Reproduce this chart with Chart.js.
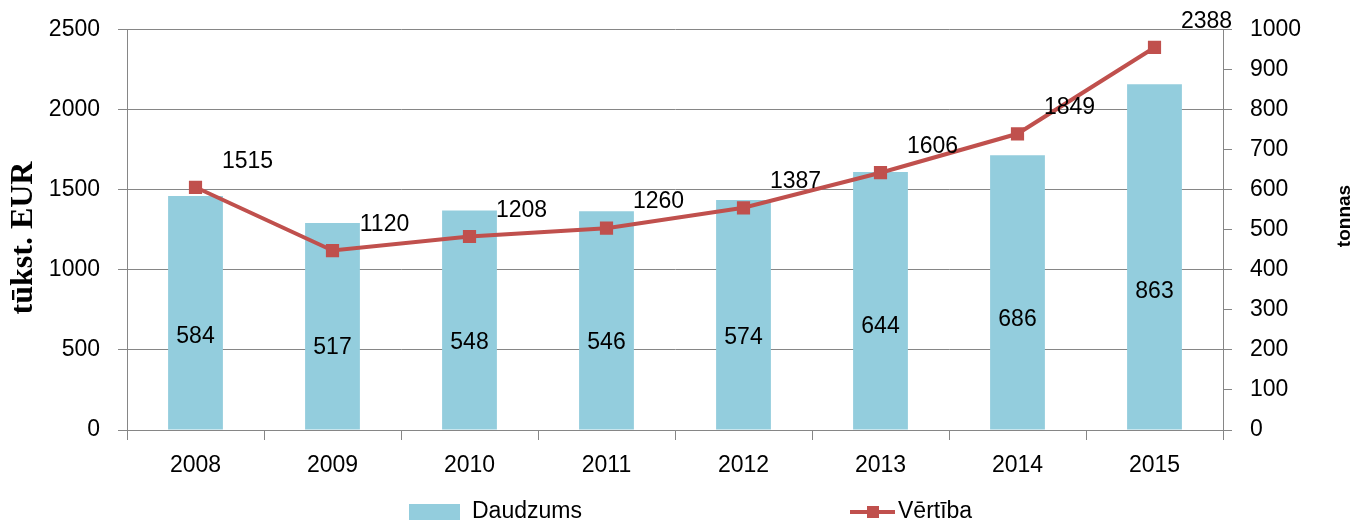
<!DOCTYPE html>
<html>
<head>
<meta charset="utf-8">
<script src="https://cdn.jsdelivr.net/npm/chart.js@4"></script>
<style>
  html, body { margin: 0; padding: 0; background: #fff; }
  #wrap { width: 1358px; height: 522px; }
</style>
</head>
<body>
<div id="wrap"><canvas id="chart" width="1358" height="522"></canvas></div>
<script>
// chart data
const years = ['2008', '2009', '2010', '2011', '2012', '2013', '2014', '2015'];
const daudzums = [584, 517, 548, 546, 574, 644, 686, 863];        // tonnas (right axis)
const vertiba = [1515, 1120, 1208, 1260, 1387, 1606, 1849, 2388]; // tūkst. EUR (left axis)
const seriesNames = ['Daudzums', 'Vērtība'];
const leftTitle = 'tūkst. EUR';
const rightTitle = 'tonnas';

const BAR_COLOR = '#93cddd';
const LINE_COLOR = '#c0504d';
const AXIS_COLOR = '#868686';
const FONT = '"Liberation Sans", Arial, sans-serif';

// labels, titles and legend drawn by hand
const decorPlugin = {
  id: 'decor',
  afterDatasetsDraw(chart) {
    const ctx = chart.ctx;
    const yR = chart.scales.yR;
    const barMeta = chart.getDatasetMeta(0);
    const lineMeta = chart.getDatasetMeta(1);
    ctx.save();
    ctx.fillStyle = '#000';
    ctx.font = '23px ' + FONT;
    ctx.textAlign = 'center';
    ctx.textBaseline = 'middle';

    // bar value labels
    barMeta.data.forEach((bar, i) => {
      ctx.fillText(String(daudzums[i]), bar.x, yR.getPixelForValue(daudzums[i] * 0.4));
    });

    // line value labels (above right of each point)
    lineMeta.data.forEach((pt, i) => {
      ctx.fillText(String(vertiba[i]), pt.x + 52, pt.y - 26);
    });

    // axis titles
    ctx.font = 'bold 32px "Liberation Serif", "Times New Roman", serif';
    ctx.translate(24, 238);
    ctx.rotate(-Math.PI / 2);
    ctx.fillText(leftTitle, 0, 0);
    ctx.setTransform(1, 0, 0, 1, 0, 0);

    ctx.font = 'bold 19px ' + FONT;
    ctx.translate(1345, 216);
    ctx.rotate(-Math.PI / 2);
    ctx.fillText(rightTitle, 0, 0);
    ctx.setTransform(1, 0, 0, 1, 0, 0);

    // legend
    ctx.font = '23px ' + FONT;
    ctx.textAlign = 'left';
    ctx.fillStyle = BAR_COLOR;
    ctx.fillRect(409, 504, 51, 16);
    ctx.fillStyle = '#000';
    ctx.fillText(seriesNames[0], 472, 512);

    ctx.strokeStyle = LINE_COLOR;
    ctx.lineWidth = 4;
    ctx.beginPath();
    ctx.moveTo(850, 512);
    ctx.lineTo(895, 512);
    ctx.stroke();
    ctx.fillStyle = LINE_COLOR;
    ctx.fillRect(867, 506, 12, 12);
    ctx.fillStyle = '#000';
    ctx.fillText(seriesNames[1], 898, 512);
    ctx.restore();
  }
};

const plainTick = (v) => String(v);

const ctx = document.getElementById('chart').getContext('2d');
new Chart(ctx, {
  data: {
    labels: years,
    datasets: [
      {
        type: 'bar',
        label: seriesNames[0],
        data: daudzums,
        backgroundColor: BAR_COLOR,
        barPercentage: 0.4,
        categoryPercentage: 1,
        yAxisID: 'yR',
        order: 2
      },
      {
        type: 'line',
        label: seriesNames[1],
        data: vertiba,
        borderColor: LINE_COLOR,
        backgroundColor: LINE_COLOR,
        borderWidth: 4,
        pointStyle: 'rect',
        pointRadius: 6.5,
        pointHoverRadius: 6.5,
        tension: 0,
        yAxisID: 'yL',
        order: 1
      }
    ]
  },
  options: {
    responsive: false,
    animation: false,
    layout: { padding: { top: 27, left: 0, right: 0, bottom: 0 } },
    plugins: {
      legend: { display: false },
      tooltip: { enabled: false }
    },
    scales: {
      x: {
        offset: true,
        grid: { display: true, drawOnChartArea: false, offset: true, tickLength: 10, color: AXIS_COLOR },
        border: { color: AXIS_COLOR },
        ticks: { color: '#000', font: { size: 23, family: FONT }, padding: 12, maxRotation: 0 },
        afterFit(scale) { scale.height = 92; }
      },
      yL: {
        position: 'left',
        min: 0,
        max: 2500,
        grid: { color: AXIS_COLOR, tickLength: 9 },
        border: { color: AXIS_COLOR },
        ticks: { stepSize: 500, color: '#000', font: { size: 23, family: FONT, lineHeight: 1 }, padding: 18, callback: plainTick },
        afterFit(scale) { scale.width = 127; }
      },
      yR: {
        position: 'right',
        min: 0,
        max: 1000,
        grid: { drawOnChartArea: false, color: AXIS_COLOR, tickLength: 9 },
        border: { color: AXIS_COLOR },
        ticks: { stepSize: 100, color: '#000', font: { size: 23, family: FONT, lineHeight: 1 }, padding: 18, callback: plainTick },
        afterFit(scale) { scale.width = 135; }
      }
    }
  },
  plugins: [decorPlugin]
});
</script>
</body>
</html>
